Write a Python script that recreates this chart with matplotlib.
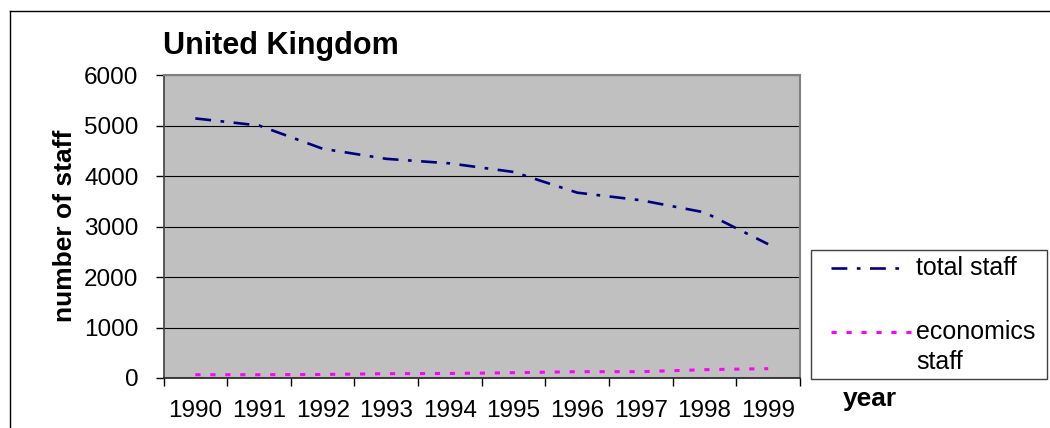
import matplotlib
matplotlib.use("Agg")
import matplotlib.pyplot as plt
from matplotlib.lines import Line2D
from matplotlib.patches import Rectangle

plt.rcParams['font.family'] = ['Liberation Sans', 'DejaVu Sans']

years = ['1990', '1991', '1992', '1993', '1994', '1995', '1996', '1997', '1998', '1999']
total_staff = [5140, 5000, 4540, 4340, 4250, 4080, 3670, 3520, 3280, 2650]
economics_staff = [65, 65, 70, 85, 90, 105, 125, 125, 165, 185]
y_ticks = [0, 1000, 2000, 3000, 4000, 5000, 6000]

W, H = 1050, 428
fig = plt.figure(figsize=(W / 100, H / 100), dpi=100)
fig.patch.set_facecolor('white')

def fx(px):
    return px / W

def fy(py):
    return 1 - py / H

left, right, top, bottom = 163.5, 800, 75, 378
ax = fig.add_axes([fx(left), fy(bottom), fx(right) - fx(left), fy(top) - fy(bottom)])
ax.set_facecolor('#C0C0C0')

navy = '#000080'
magenta = '#FF00FF'
navy_dash = (6, 3.6, 1.4, 3.6)
pink_dash = (1.7, 3.2)

x = list(range(len(years)))
ax.plot(x, total_staff, color=navy, lw=1.9, dashes=navy_dash, dash_capstyle='butt', zorder=3)
ax.plot(x, economics_staff, color=magenta, lw=2.2, dashes=pink_dash, dash_capstyle='butt', zorder=3)

ax.set_xlim(-0.5, len(years) - 0.5)
ax.set_ylim(0, 6000)
ax.set_yticks(y_ticks)
ax.set_yticklabels([str(v) for v in y_ticks])
ax.yaxis.grid(True, color='black', lw=0.8)
ax.set_axisbelow(True)

ax.set_xticks([i - 0.5 for i in range(len(years) + 1)])
ax.set_xticklabels([])
ax.set_xticks(x, minor=True)
ax.set_xticklabels(years, minor=True)
ax.tick_params(axis='x', which='major', length=6, width=1, direction='out', color='black')
ax.tick_params(axis='x', which='minor', length=0, pad=16, labelsize=17.5)
ax.tick_params(axis='y', length=6, width=1, direction='out', pad=12, labelsize=17.5)

for s in ['top', 'right']:
    ax.spines[s].set_color('#808080')
    ax.spines[s].set_linewidth(1.5)
ax.spines['left'].set_color('#404040')
ax.spines['left'].set_linewidth(1.2)
ax.spines['bottom'].set_color('#202020')
ax.spines['bottom'].set_linewidth(1.2)

# Title and axis labels
fig.text(fx(163), fy(46), 'United Kingdom', fontsize=22, fontweight='bold', ha='left', va='center')
fig.text(fx(65), fy(226), 'number of staff', fontsize=19, fontweight='bold', rotation=90,
         ha='center', va='center')
fig.text(fx(843), fy(399), 'year', fontsize=19, fontweight='bold', ha='left', va='center')

# Outer chart frame
fig.add_artist(Line2D([fx(10), fx(10)], [fy(11), fy(H + 5)], color='black', lw=1))
fig.add_artist(Line2D([fx(10), fx(W + 5)], [fy(11), fy(11)], color='black', lw=1))

# Legend box
fig.add_artist(Rectangle((fx(811), fy(379)), fx(1047) - fx(811), fy(250) - fy(379),
                         transform=fig.transFigure, facecolor='white', edgecolor='#404040', lw=1))
fig.add_artist(Line2D([fx(831), fx(907)], [fy(268), fy(268)], color=navy, lw=1.9,
                      dashes=navy_dash, dash_capstyle='butt'))
fig.add_artist(Line2D([fx(831), fx(911)], [fy(332), fy(332)], color=magenta, lw=2.2,
                      dashes=pink_dash, dash_capstyle='butt'))
fig.text(fx(916), fy(268), 'total staff', fontsize=18, ha='left', va='center')
fig.text(fx(916), fy(332), 'economics', fontsize=18, ha='left', va='center')
fig.text(fx(916), fy(362), 'staff', fontsize=18, ha='left', va='center')

fig.savefig('out.png', dpi=100)
